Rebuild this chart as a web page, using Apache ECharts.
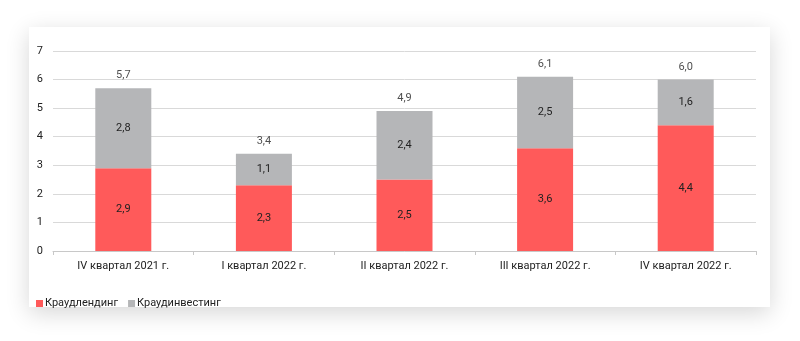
<!DOCTYPE html>
<html><head><meta charset="utf-8">
<script src="https://cdn.jsdelivr.net/npm/echarts@6/dist/echarts.min.js"></script>
<style>
html,body{margin:0;padding:0;background:#fff;width:800px;height:341px;overflow:hidden}
#card{position:absolute;left:29px;top:27px;width:741px;height:280px;background:#fff;box-shadow:0 6px 22px rgba(0,0,0,0.16)}
#chart{position:absolute;left:0;top:0;width:800px;height:341px}
</style></head>
<body>
<div id="card"></div>
<div id="chart"></div>
<script>
const categories = ['IV квартал 2021 г.', 'I квартал 2022 г.', 'II квартал 2022 г.', 'III квартал 2022 г.', 'IV квартал 2022 г.'];
const crowdlending = [2.9, 2.3, 2.5, 3.6, 4.4];
const crowdinvesting = [2.8, 1.1, 2.4, 2.5, 1.6];
const totals = [5.7, 3.4, 4.9, 6.1, 6.0];
const yTicks = [0, 1, 2, 3, 4, 5, 6, 7];

const fmt = v => Number(v).toFixed(1).replace('.', ',');
const FONT = 'Roboto, sans-serif';
const TC = '#222';
const FS = 11;
const chart = echarts.init(document.getElementById('chart'), null, {renderer: 'canvas'});
chart.setOption({
  backgroundColor: 'transparent',
  animation: false,
  textStyle: {fontFamily: FONT},
  grid: {left: 53, right: 44, top: 51, bottom: 90},
  legend: {
    data: ['Краудлендинг', 'Краудинвестинг'],
    left: 31, top: 293,
    icon: 'rect', itemWidth: 7, itemHeight: 7, itemGap: 10,
    textStyle: {fontFamily: FONT, fontSize: FS, color: TC, padding: [0, 0, 0, -3]}
  },
  xAxis: {
    type: 'category', data: categories,
    axisLine: {lineStyle: {color: '#c8c8c8'}},
    axisTick: {show: true, length: 4, lineStyle: {color: '#c8c8c8'}},
    axisLabel: {color: TC, fontSize: FS, margin: 10, fontFamily: FONT}
  },
  yAxis: {
    type: 'value', min: yTicks[0], max: yTicks[yTicks.length - 1], interval: 1,
    axisLine: {show: false}, axisTick: {show: false},
    splitLine: {lineStyle: {color: '#d9d9d9'}},
    axisLabel: {color: TC, fontSize: FS, margin: 10, fontFamily: FONT}
  },
  series: [
    {name: 'Краудлендинг', type: 'bar', stack: 's', data: crowdlending,
     barWidth: 56, itemStyle: {color: '#ff5a5a'},
     label: {show: true, position: 'inside', formatter: p => fmt(p.value), color: TC, fontSize: FS, fontFamily: FONT}},
    {name: 'Краудинвестинг', type: 'bar', stack: 's', data: crowdinvesting,
     barWidth: 56, itemStyle: {color: '#b5b6b8'},
     label: {show: true, position: 'inside', formatter: p => fmt(p.value), color: TC, fontSize: FS, fontFamily: FONT}},
    {name: 'Итого', type: 'scatter', data: totals, symbolSize: 0, silent: true,
     label: {show: true, position: 'top', distance: 7, formatter: p => fmt(p.value), color: TC, fontSize: FS, fontFamily: FONT}}
  ]
});
</script>
</body></html>
